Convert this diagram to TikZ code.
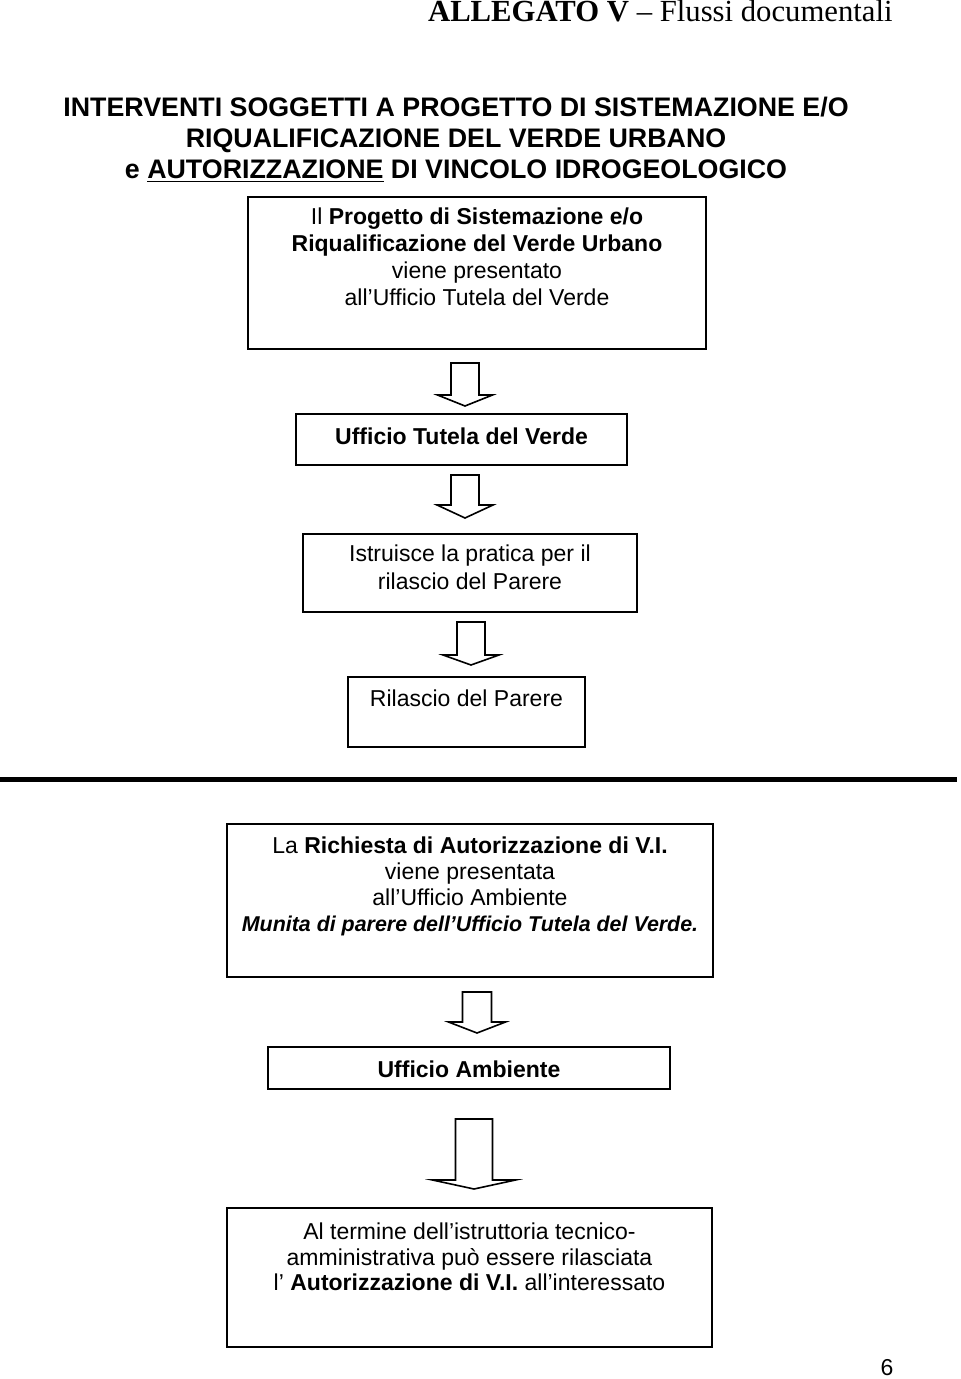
\documentclass[tikz,border=0pt]{standalone}
\usepackage{fontspec}
\setmainfont{Liberation Sans}
\newfontfamily\headserif{Liberation Serif}
\usetikzlibrary{positioning}

\begin{document}
\begin{tikzpicture}[x=0.5pt, y=-0.5pt,
    box/.style={draw, line width=1pt, inner sep=0pt},
    txt/.style={inner sep=0pt, align=center, font=\fontsize{11.5}{13.5}\selectfont},
    bigarrow/.style={draw, line width=0.8pt, fill=white, line join=miter}]

    \useasboundingbox (0,0) rectangle (960,1379);

    % intestazione e titolo
    \node[anchor=base east, inner sep=0pt, font=\headserif\fontsize{15.35}{18}\selectfont] (head) at (893,22)
        {\textbf{ALLEGATO V} – Flussi documentali};
    \node[anchor=north, inner sep=0pt, align=center, font=\bfseries\fontsize{13.4}{15.5}\selectfont] (title) at (456,97)
        {INTERVENTI SOGGETTI A PROGETTO DI SISTEMAZIONE E/O\\
         RIQUALIFICAZIONE DEL VERDE URBANO\\
         e \underline{AUTORIZZAZIONE} DI VINCOLO IDROGEOLOGICO};

    % parere dell'Ufficio Tutela del Verde
    \node[box, minimum width=229pt, minimum height=76pt] (prog) at (477,273) {};
    \node[txt, below=5.5pt of prog.north] (progtxt)
        {Il \textbf{Progetto di Sistemazione e/o}\\
         \textbf{Riqualificazione del Verde Urbano}\\
         viene presentato\\
         all’Ufficio Tutela del Verde};
    \coordinate (a1) at (465,363);
    \draw[bigarrow] (a1) ++(-14,0) -- ++(0,32) -- ++(-13.5,0) -- ++(27.5,11) -- ++(27.5,-11) -- ++(-13.5,0) -- ++(0,-32) -- cycle;

    \node[box, minimum width=165.5pt, minimum height=25.5pt] (utv) at (461.5,439.5) {};
    \node[txt, below=7pt of utv.north] (utvtxt) {\textbf{Ufficio Tutela del Verde}};
    \coordinate (a2) at (465,475);
    \draw[bigarrow] (a2) ++(-14,0) -- ++(0,30) -- ++(-14,0) -- ++(28,13) -- ++(28,-13) -- ++(-14,0) -- ++(0,-30) -- cycle;

    \node[box, minimum width=167pt, minimum height=39pt] (istr) at (470,573) {};
    \node[txt, below=5.75pt of istr.north, font=\fontsize{11.5}{14}\selectfont] (istrtxt)
        {Istruisce la pratica per il\\rilascio del Parere};
    \coordinate (a3) at (471,622);
    \draw[bigarrow] (a3) ++(-14,0) -- ++(0,33) -- ++(-14,0) -- ++(28,10) -- ++(28,-10) -- ++(-14,0) -- ++(0,-33) -- cycle;

    \node[box, minimum width=118.5pt, minimum height=35pt] (ril) at (466.5,712) {};
    \node[txt, below=6.5pt of ril.north] (riltxt) {Rilascio del Parere};

    % separatore
    \draw[line width=2.5pt] (0,779.5) -- (957,779.5);

    % autorizzazione di vincolo idrogeologico
    \node[box, minimum width=243pt, minimum height=76.5pt] (rich) at (470,900.5) {};
    \node[txt, below=6.75pt of rich.north, font=\fontsize{11.5}{13}\selectfont] (richtxt)
        {La \textbf{Richiesta di Autorizzazione di V.I.}\\
         viene presentata\\
         all’Ufficio Ambiente\\
         {\fontsize{10.7}{13}\selectfont\textbf{\textit{Munita di parere dell’Ufficio Tutela del Verde.}}}};
    \coordinate (a4) at (477,992);
    \draw[bigarrow] (a4) ++(-14.5,0) -- ++(0,30) -- ++(-14,0) -- ++(28.5,11) -- ++(28.5,-11) -- ++(-14,0) -- ++(0,-30) -- cycle;

    \node[box, minimum width=201pt, minimum height=21pt] (amb) at (469,1068) {};
    \node[txt, below=7pt of amb.north] (ambtxt) {\textbf{Ufficio Ambiente}};
    \coordinate (a5) at (474,1119);
    \draw[bigarrow] (a5) ++(-18.5,0) -- ++(0,61) -- ++(-23,0) -- ++(41.5,9) -- ++(41.5,-9) -- ++(-23,0) -- ++(0,-61) -- cycle;

    \node[box, minimum width=242.5pt, minimum height=69.5pt] (fine) at (469.5,1277.5) {};
    \node[txt, below=7.75pt of fine.north, font=\fontsize{11.5}{12.75}\selectfont] (finetxt)
        {Al termine dell’istruttoria tecnico-\\
         amministrativa può essere rilasciata\\
         l’ \textbf{Autorizzazione di V.I.} all’interessato};

    % numero di pagina
    \node[anchor=base, inner sep=0pt, font=\fontsize{11.5}{13.5}\selectfont] (pag) at (887,1375) {6};
\end{tikzpicture}
\end{document}
